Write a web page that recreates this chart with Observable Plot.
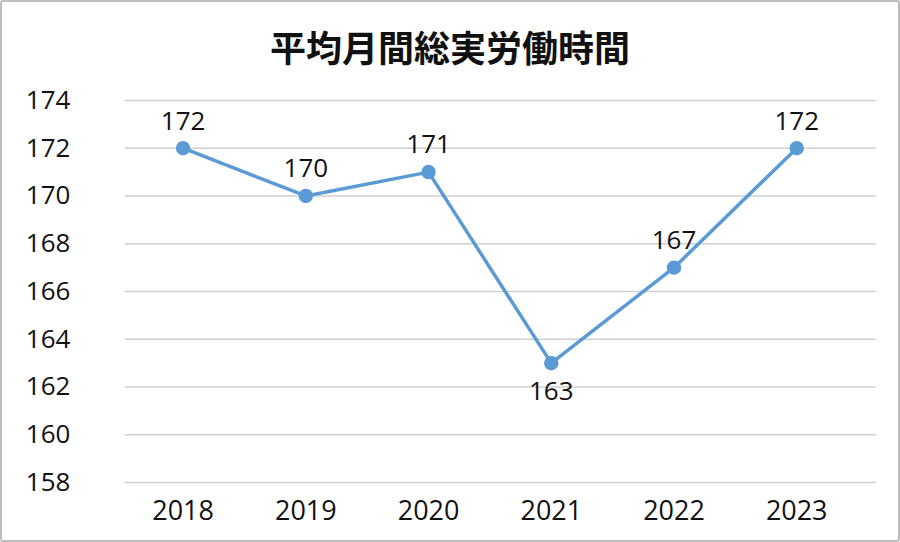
<!DOCTYPE html>
<html><head><meta charset="utf-8">
<script src="https://cdn.jsdelivr.net/npm/d3@7"></script>
<script src="https://cdn.jsdelivr.net/npm/@observablehq/plot@0.6"></script>
<style>
html,body{margin:0;padding:0;background:#fff;}
#wrap{position:relative;width:896px;height:538px;border:2px solid #bdbdbd;border-radius:3px;overflow:hidden;background:#fff;}
#title{position:absolute;left:0;top:0;width:100%;height:80px;text-align:center;font-family:"Noto Sans CJK JP",sans-serif;font-weight:bold;font-size:36px;line-height:88px;color:#111;}
#chart{position:absolute;left:-2px;top:76px;}
</style>
</head><body>
<div id="wrap"><div id="title">平均月間総実労働時間</div><div id="chart"></div></div>
<script>
const years = ["2018","2019","2020","2021","2022","2023"];
const hours = [172,170,171,163,167,172];
const yTicks = [158,160,162,164,166,168,170,172,174];
const labelBelow = [false,false,false,true,false,false];

const data = years.map((y,i)=>({year:y, value:hours[i], below:labelBelow[i]}));
const blue = "#5b9bd5";
const font = "'Open Sans','Noto Sans',sans-serif";

const chart = Plot.plot({
  width: 900,
  height: 462,
  marginTop: 22,
  marginBottom: 57,
  marginLeft: 125,
  marginRight: 22,
  style: {fontFamily: font, fontSize: "26px", color: "#111", background: "transparent", fontWeight: 500},
  x: {type: "point", domain: years, range: [182, 799], padding: 0, label: null},
  y: {domain: [158, 174], ticks: yTicks, label: null},
  marks: [
    Plot.ruleY(yTicks, {stroke: "#d0d0d0", strokeWidth: 1.5}),
    Plot.axisY({ticks: yTicks, tickSize: 0, tickPadding: 55, textAnchor: "end", fontSize: 26, label: null, style:{letterSpacing:"3px"}}),
    Plot.axisX({tickSize: 0, tickPadding: 18, fontSize: 27, label: null}),
    Plot.line(data, {x: "year", y: "value", stroke: blue, strokeWidth: 3.5}),
    Plot.dot(data, {x: "year", y: "value", r: 6.5, fill: blue, stroke: blue}),
    Plot.text(data.filter(d=>!d.below), {x: "year", y: "value", text: d=>String(d.value), dy: -27, fontSize: 26, fill: "#111"}),
    Plot.text(data.filter(d=>d.below), {x: "year", y: "value", text: d=>String(d.value), dy: 29, fontSize: 26, fill: "#111"})
  ]
});
document.getElementById("chart").appendChild(chart);
</script>
</body></html>
